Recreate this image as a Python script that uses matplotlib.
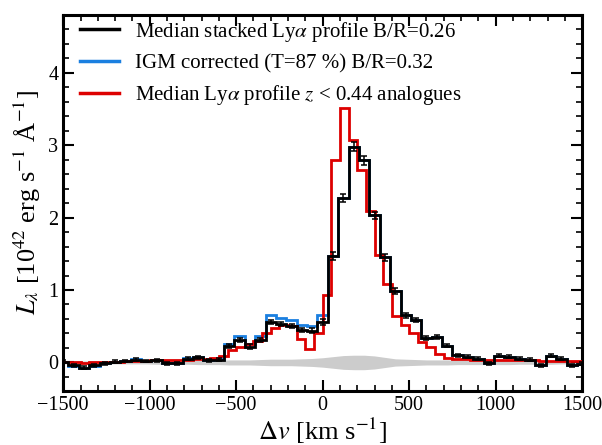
import numpy as np
import matplotlib
matplotlib.use("Agg")
import matplotlib.pyplot as plt
from matplotlib.lines import Line2D

plt.rcParams['font.family'] = ['Liberation Serif', 'DejaVu Serif']
plt.rcParams['mathtext.fontset'] = 'stix'

# ---- data ----
black_centers = list(range(-1500, 1501, 60))
black_vals = [0.01, -0.04, -0.07, -0.04, -0.01, 0.01, 0.02, 0.04, 0.02, 0.03,
              -0.01, -0.01, 0.05, 0.07, 0.03, 0.04, 0.23, 0.31, 0.22, 0.31,
              0.56, 0.53, 0.50, 0.45, 0.44, 0.56, 1.47, 2.27, 2.98, 2.79,
              2.03, 1.45, 0.99, 0.65, 0.59, 0.34, 0.35, 0.23, 0.10, 0.08,
              0.05, -0.01, 0.09, 0.08, 0.05, 0.04, -0.04, 0.09, 0.05, -0.04,
              -0.02]
blue_vals = [0.01, -0.05, -0.08, -0.05, -0.01, 0.01, 0.02, 0.05, 0.02, 0.03,
             -0.01, -0.01, 0.06, 0.08, 0.03, 0.05, 0.26, 0.36, 0.25, 0.36,
             0.65, 0.61, 0.58, 0.52, 0.51, 0.65, 1.47, 2.27, 2.98, 2.79,
             2.03, 1.45, 0.99, 0.65, 0.59, 0.34, 0.35, 0.23, 0.10, 0.08,
             0.05, -0.01, 0.09, 0.08, 0.05, 0.04, -0.04, 0.09, 0.05, -0.04,
             -0.02]
black_err = [0.02, 0.02, 0.02, 0.02, 0.02, 0.02, 0.02, 0.02, 0.02, 0.02,
             0.02, 0.02, 0.02, 0.02, 0.02, 0.02, 0.03, 0.03, 0.03, 0.03,
             0.03, 0.03, 0.03, 0.03, 0.03, 0.04, 0.05, 0.06, 0.06, 0.06,
             0.05, 0.05, 0.04, 0.03, 0.03, 0.03, 0.03, 0.02, 0.02, 0.02,
             0.02, 0.02, 0.02, 0.02, 0.02, 0.02, 0.02, 0.02, 0.02, 0.02,
             0.02]
noise_vals = [0.02, 0.02, 0.02, 0.02, 0.02, 0.02, 0.02, 0.02, 0.02, 0.025,
              0.025, 0.025, 0.025, 0.03, 0.03, 0.03, 0.035, 0.035, 0.035, 0.04,
              0.045, 0.045, 0.045, 0.05, 0.055, 0.065, 0.08, 0.095, 0.10, 0.10,
              0.09, 0.07, 0.05, 0.045, 0.04, 0.035, 0.035, 0.035, 0.03, 0.03,
              0.03, 0.03, 0.03, 0.03, 0.025, 0.025, 0.025, 0.025, 0.02, 0.02,
              0.02]

red_centers = list(range(-1475, 1476, 50))
red_vals = [0.01, 0.00, -0.01, 0.00, 0.00, 0.01, 0.01, 0.02, 0.02, 0.02,
            0.03, 0.03, 0.03, 0.04, 0.04, 0.05, 0.05, 0.06, 0.09, 0.17,
            0.21, 0.26, 0.29, 0.40, 0.47, 0.52, 0.50, 0.33, 0.19, 0.40,
            0.93, 2.79, 3.51, 3.07, 2.66, 2.09, 1.48, 1.08, 0.64, 0.52,
            0.40, 0.28, 0.22, 0.12, 0.06, 0.05, 0.05, 0.04, 0.04, 0.03,
            0.03, 0.03, 0.03, 0.03, 0.03, 0.02, 0.02, 0.02, 0.02, 0.02]

labels = [r'Median stacked Ly$\alpha$ profile B/R=0.26',
          r'IGM corrected (T=87 %) B/R=0.32',
          r'Median Ly$\alpha$ profile $z$ < 0.44 analogues']
colors = ['black', '#1a7fe0', '#dd0000']

# ---- plot ----
bc = np.array(black_centers, float)
b_edges = np.concatenate([bc - 30, [bc[-1] + 30]])
rc = np.array(red_centers, float)
r_edges = np.concatenate([rc - 25, [rc[-1] + 25]])
noise = np.array(noise_vals)

fig = plt.figure(figsize=(6.02, 4.45), dpi=100)
ax = fig.add_axes([0.105, 0.122, 0.862, 0.845])

ax.fill_between(bc, -noise, noise, color='#cccccc', lw=0, zorder=1)
ax.stairs(blue_vals, b_edges, baseline=None, color=colors[1], lw=2.0, zorder=2)
ax.stairs(red_vals, r_edges, baseline=None, color=colors[2], lw=2.0, zorder=3)
ax.stairs(black_vals, b_edges, baseline=None, color=colors[0], lw=2.0, zorder=4)
ax.errorbar(bc, black_vals, yerr=black_err, fmt='none', ecolor='black',
            elinewidth=1.1, capsize=2.5, capthick=1.1, zorder=5)

ax.set_xlim(-1500, 1500)
ax.set_ylim(-0.39, 4.8)
ax.set_xticks([-1500, -1000, -500, 0, 500, 1000, 1500])
ax.set_yticks([0, 1, 2, 3, 4])
ax.xaxis.set_minor_locator(matplotlib.ticker.MultipleLocator(100))
ax.yaxis.set_minor_locator(matplotlib.ticker.MultipleLocator(0.2))
ax.tick_params(which='both', direction='in', top=True, right=True, labelsize=14.5)
ax.tick_params(which='major', length=8, width=1.5)
ax.tick_params(which='minor', length=4, width=1.2)
for s in ax.spines.values():
    s.set_linewidth(2.2)

ax.set_xlabel(r'$\Delta v$ [km s$^{-1}$]', fontsize=19, labelpad=1)
ax.set_ylabel(r'$L_{\lambda}$ [10$^{42}$ erg s$^{-1}$ Å$^{-1}$]', fontsize=19, labelpad=4)

handles = [Line2D([], [], color=c, lw=2.5) for c in colors]
ax.legend(handles, labels, loc='upper left', frameon=False, fontsize=15,
          handlelength=1.9, handletextpad=0.75, labelspacing=0.48,
          borderaxespad=0.2, bbox_to_anchor=(0.008, 1.02))

fig.savefig('out.png', dpi=100)
